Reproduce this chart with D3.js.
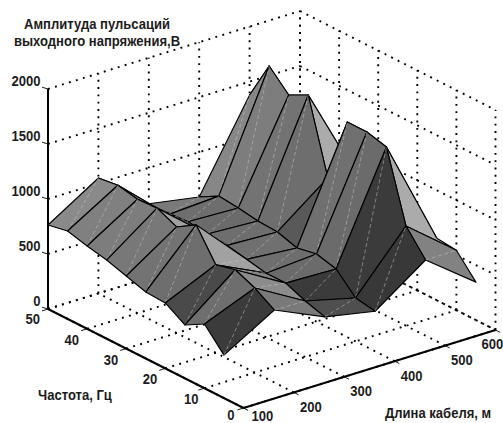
<!DOCTYPE html>
<html><head><meta charset="utf-8">
<script src="https://cdn.jsdelivr.net/npm/d3@7/dist/d3.min.js"></script>
<style>html,body{margin:0;padding:0;background:#fff}svg{display:block}
text{font-family:"Liberation Sans",sans-serif;font-weight:700;fill:#1c1c1c;font-size:15px}</style>
</head><body><div id="c"></div>
<script>
const lengths=[100,200,300,400,500,600];
const freqs=[50,45,40,35,30,25,20,15,10,5];
const z100=[764,799,753,715,660,605,595,485,584,391];
const z200=[1049,1073,1036,1045,964,1073,800,845,769,659];
const z300=[673,664,690,668,655,618,582,582,509,455];
const z400=[593,691,673,645,635,579,615,568,395,364];
const z500=[1378,1732,1558,1648,985,1582,1582,1535,907,688];
const z600=[450,500,600,752,700,650,600,564,545,345];
const amplitude=[z100,z200,z300,z400,z500,z600];
// surface reflectance of each facet (percent), one list per length band
const refl100=[54,50,49,47,45,43,29,43,23];
const refl200=[50,54,47,63,47,63,50,55,48];
const refl300=[48,43,42,43,44,43,42,23,31];
const refl400=[53,49,45,43,35,44,42,23,22];
const refl500=[60,65,67,67,65,62,62,67,51];
const reflectance=[refl100,refl200,refl300,refl400,refl500];
const xTicks=[100,200,300,400,500,600];
const yTicks=[0,10,20,30,40,50];
const zTicks=[0,500,1000,1500,2000];
const titleLines=["Амплитуда пульсаций","выходного напряжения,В"];

const W=503,H=423;
const svg=d3.select("#c").append("svg").attr("width",W).attr("height",H);
const xSx=d3.scaleLinear().domain([100,600]).range([0,252]);
const xSy=d3.scaleLinear().domain([100,600]).range([0,-78]);
const ySx=d3.scaleLinear().domain([0,50]).range([243.5,48]);
const ySy=d3.scaleLinear().domain([0,50]).range([408,309]);
const zSy=d3.scaleLinear().domain([0,2000]).range([0,-220]);
const gray=d3.scaleLinear().domain([0,100]).range(["#000","#fff"]);
const P=(x,y,z)=>[xSx(x)+ySx(y),xSy(x)+ySy(y)+zSy(z)];
const line=d3.line();

const g=svg.append("g");
function dotted(a,b){
  g.append("path").attr("d",line([a,b])).attr("fill","none").attr("stroke","#000")
   .attr("stroke-width",1.9).attr("stroke-dasharray","1.9 5.4");
}
const xMin=100,xMax=600,yMin=0,yMax=50,zMax=2000;
xTicks.forEach(x=>dotted(P(x,yMin,0),P(x,yMax,0)));
yTicks.forEach(y=>dotted(P(xMin,y,0),P(xMax,y,0)));
zTicks.forEach(z=>{dotted(P(xMin,yMax,z),P(xMax,yMax,z));dotted(P(xMax,yMax,z),P(xMax,yMin,z));});
xTicks.slice(1).forEach(x=>dotted(P(x,yMax,0),P(x,yMax,zMax)));
yTicks.forEach(y=>dotted(P(xMax,y,0),P(xMax,y,zMax)));

const surf=svg.append("g");
for(let i=lengths.length-2;i>=0;i--){
  for(let j=0;j<freqs.length-1;j++){
    const x0=lengths[i],x1=lengths[i+1],y0=freqs[j],y1=freqs[j+1];
    const a=amplitude[i][j],b=amplitude[i+1][j],c=amplitude[i+1][j+1],d=amplitude[i][j+1];
    const pts=[P(x0,y0,a),P(x1,y0,b),P(x1,y1,c),P(x0,y1,d)];
    surf.append("path").attr("d",line(pts)+"Z").attr("fill",gray(reflectance[i][j]))
      .attr("stroke","#000").attr("stroke-width",1.15).attr("stroke-linejoin","round");
    surf.append("path").attr("d",line([pts[3],pts[1]])).attr("fill","none")
      .attr("stroke","#c8c8c8").attr("stroke-width",0.5).attr("stroke-dasharray","4 2.5");
  }
}

const ax=svg.append("g");
function solid(a,b,w){ax.append("path").attr("d",line([a,b])).attr("stroke","#000").attr("stroke-width",w).attr("fill","none");}
solid(P(xMin,yMax,0),P(xMin,yMax,zMax),2);
solid(P(xMin,yMax,0),P(xMin,yMin,0),2);
solid(P(xMin,yMin,0),P(xMax,yMin,0),2);
const narrow=0.87;
const txt=(s,x,y,anchor)=>svg.append("text")
  .attr("transform",`translate(${x},${y}) scale(${narrow},1)`)
  .attr("text-anchor",anchor||"start").text(s);
zTicks.forEach(z=>{
  const p=P(xMin,yMax,z);
  solid(p,[p[0]-6,p[1]-1.8],0.9);
  txt(String(z),40.5,p[1]-3.5,"end");
});
yTicks.forEach(y=>{
  const p=P(xMin,y,0);
  solid(p,[p[0]-6,p[1]+1.9],0.9);
  if(y===0) txt(String(y),p[0]-9,p[1]+11.5,"end");
  else txt(String(y),p[0]-(y===10?6:8),p[1]+(y===50?15:16),"end");
});
xTicks.forEach(x=>{
  const p=P(x,yMin,0);
  solid(p,[p[0]+4.6,p[1]+2.4],0.9);
  if(x===100) txt(String(x),p[0]+8,p[1]+13);
  else if(x===600) txt(String(x),p[0]-14,p[1]+19);
  else txt(String(x),p[0]+6,p[1]+19.5);
});
titleLines.forEach((s,i)=>txt(s,97,29+i*17,"middle"));
txt("Частота, Гц",38,400);
txt("Длина кабеля, м",385,418);
</script></body></html>
